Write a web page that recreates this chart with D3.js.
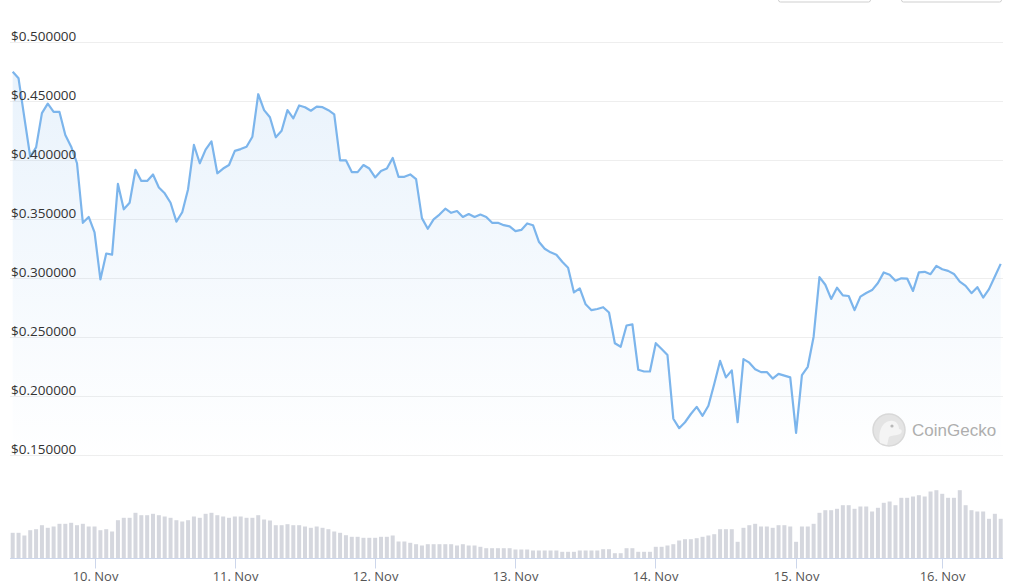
<!DOCTYPE html>
<html>
<head>
<meta charset="utf-8">
<script src="https://cdn.jsdelivr.net/npm/d3@7"></script>
<style>
  body { margin: 0; background: #fff; }
  svg { display: block; font-family: "Open Sans", "Liberation Sans", Arial, sans-serif; }
</style>
</head>
<body>
<div id="chart"></div>
<script>
// hourly price (USD), 9 Nov morning -> 16 Nov midday
const prices = [
  0.475, 0.4695, 0.436, 0.403, 0.411, 0.440, 0.448, 0.441, 0.441, 0.4215,
  0.4115, 0.3975, 0.347, 0.352, 0.339, 0.299, 0.321, 0.320, 0.380, 0.3585,
  0.364, 0.392, 0.3825, 0.3825, 0.388, 0.377, 0.372, 0.364, 0.348, 0.356,
  0.3755, 0.413, 0.3975, 0.409, 0.416, 0.389, 0.393, 0.396, 0.408, 0.4095,
  0.4115, 0.420, 0.456, 0.4425, 0.4365, 0.4195, 0.425, 0.4425, 0.4355, 0.4465,
  0.445, 0.442, 0.4455, 0.445, 0.4425, 0.439, 0.400, 0.400, 0.390, 0.390,
  0.396, 0.393, 0.3855, 0.391, 0.393, 0.402, 0.386, 0.386, 0.388, 0.384,
  0.351, 0.342, 0.350, 0.354, 0.359, 0.3555, 0.357, 0.352, 0.3545, 0.352,
  0.354, 0.352, 0.347, 0.347, 0.345, 0.344, 0.340, 0.341, 0.3465, 0.345,
  0.331, 0.325, 0.322, 0.320, 0.314, 0.309, 0.288, 0.2915, 0.278, 0.273,
  0.274, 0.2755, 0.271, 0.245, 0.242, 0.260, 0.261, 0.2225, 0.221, 0.221,
  0.245, 0.240, 0.235, 0.181, 0.173, 0.178, 0.185, 0.191, 0.1835, 0.192,
  0.2105, 0.230, 0.216, 0.222, 0.178, 0.2315, 0.2285, 0.223, 0.2205, 0.2205,
  0.215, 0.219, 0.2175, 0.216, 0.169, 0.218, 0.225, 0.2505, 0.301, 0.2945,
  0.2825, 0.292, 0.2855, 0.285, 0.273, 0.2845, 0.2875, 0.290, 0.296, 0.305,
  0.303, 0.298, 0.300, 0.2998, 0.2893, 0.305, 0.3055, 0.3035, 0.3105, 0.3077,
  0.3063, 0.3037, 0.2972, 0.2936, 0.2874, 0.2925, 0.2837, 0.2908, 0.3015, 0.3122
];

// hourly volume (millions USD)
const volumes = [
  25.7, 25.7, 23, 28.3, 29.3, 33.3, 30.7, 32, 34.7, 34.7,
  35.7, 33.3, 34.7, 32, 32, 28.3, 29.3, 27, 38.3, 40.7,
  40.7, 45.7, 43.3, 43.3, 44.7, 43.3, 42, 40.7, 38.3, 37,
  38.3, 42, 40.7, 44.7, 45.7, 43.3, 42, 40.7, 42, 42,
  40.7, 40.7, 43.3, 39, 38, 33.3, 33.3, 34.3, 33.3, 33.3,
  32, 30.7, 32, 30.7, 29.3, 27, 25.7, 23.3, 21.7, 21.7,
  20.7, 20.7, 20.7, 21.7, 21.7, 23, 17, 17, 15.7, 14.3,
  13, 14.3, 14.3, 14.3, 14.3, 14.3, 13, 14.3, 13, 13,
  11.7, 10.3, 10.3, 10.3, 10.3, 10.3, 9, 9, 9, 8,
  8, 8, 8, 8, 6.7, 6.7, 6.7, 8, 8, 8,
  8, 9.3, 9.3, 5.3, 5.3, 10.3, 10.3, 6.7, 6.7, 6.7,
  11.7, 11.7, 13, 14.3, 18, 19.3, 19.3, 20.3, 21.7, 23,
  24.3, 29.3, 29.3, 29.3, 16.7, 30.7, 33.3, 34.7, 32, 32,
  30.7, 33.3, 33.3, 32, 16.7, 32, 32, 34.7, 45.7, 48.3,
  48.3, 49.7, 53.3, 53.3, 49.7, 52, 52, 47, 50.7, 55.7,
  57, 53.3, 60.7, 60.7, 62, 63.3, 62, 67, 68.3, 64.7,
  60.7, 60.7, 68.3, 53.3, 48.3, 47, 47, 39.7, 44.7, 39.7
];

// day ticks, placed at the point index where each day starts
const dayLabels = ['10. Nov', '11. Nov', '12. Nov', '13. Nov', '14. Nov', '15. Nov', '16. Nov'];
const dayIndex = [14.1, 38.0, 62.0, 85.9, 109.9, 133.9, 158.9];

const priceTicks = [0.15, 0.2, 0.25, 0.3, 0.35, 0.4, 0.45, 0.5];

const width = 1020;
const height = 588;
const plotLeft = 10;
const plotRight = 1003;
const priceBottom = 462;
const volBase = 558.5;

const svg = d3.select('#chart').append('svg')
  .attr('width', width)
  .attr('height', height);

const x = d3.scaleLinear()
  .domain([0, prices.length - 1])
  .range([12.7, 1000.7]);

const y = d3.scaleLinear()
  .domain([0.15, 0.5])
  .range([455.3, 42.3]);

const yVol = d3.scaleLinear()
  .domain([0, 90])
  .range([volBase, volBase - 90]);

// range selector buttons, cut off at the top edge
svg.selectAll('rect.btn')
  .data([[778.5, 870.5], [901.5, 1001.5]])
  .enter().append('rect')
  .attr('class', 'btn')
  .attr('x', (d) => d[0])
  .attr('y', -30)
  .attr('width', (d) => d[1] - d[0])
  .attr('height', 32)
  .attr('rx', 2)
  .attr('fill', '#fff')
  .attr('stroke', '#cfcfcf');

// grid
svg.append('g')
  .selectAll('line')
  .data(priceTicks)
  .enter().append('line')
  .attr('x1', plotLeft)
  .attr('x2', plotRight)
  .attr('y1', (d) => Math.round(y(d)) + 0.5)
  .attr('y2', (d) => Math.round(y(d)) + 0.5)
  .attr('stroke', '#eeeeee');

// area gradient
const defs = svg.append('defs');
const grad = defs.append('linearGradient')
  .attr('id', 'fade')
  .attr('gradientUnits', 'userSpaceOnUse')
  .attr('x1', 0).attr('x2', 0)
  .attr('y1', y(0.5)).attr('y2', priceBottom);
grad.append('stop').attr('offset', 0).attr('stop-color', 'rgb(124,181,236)').attr('stop-opacity', 0.18);
grad.append('stop').attr('offset', 1).attr('stop-color', 'rgb(124,181,236)').attr('stop-opacity', 0);

const area = d3.area()
  .x((d, i) => x(i))
  .y0(priceBottom)
  .y1((d) => y(d));

const line = d3.line()
  .x((d, i) => x(i))
  .y((d) => y(d));

svg.append('path')
  .datum(prices)
  .attr('d', area)
  .attr('fill', 'url(#fade)');

// watermark
const logo = svg.append('g').attr('transform', 'translate(889,430)');
logo.append('circle').attr('r', 16).attr('fill', '#e4e4e4').attr('stroke', '#d8d8d8').attr('stroke-width', 1.5);
logo.append('path')
  .attr('d', 'M-9,13 C-11,4 -8,-8 1,-9 C7,-10 10,-5 10,-1 C13,-1 14,2 11,4 C7,6 2,5 0,7 C-1,10 -1,12 -2,15 Z')
  .attr('fill', '#f4f4f4');
logo.append('circle').attr('cx', 3).attr('cy', -4).attr('r', 1.6).attr('fill', '#b8b8b8');
svg.append('text')
  .attr('x', 912)
  .attr('y', 436)
  .attr('font-family', '"Liberation Sans", Arial, sans-serif')
  .attr('font-size', 17)
  .attr('fill', '#aeaeae')
  .text('CoinGecko');

svg.append('path')
  .datum(prices)
  .attr('d', line)
  .attr('fill', 'none')
  .attr('stroke', '#7cb5ec')
  .attr('stroke-width', 2.2)
  .attr('stroke-linejoin', 'round');

// volume bars
svg.append('g')
  .selectAll('rect')
  .data(volumes)
  .enter().append('rect')
  .attr('x', (d, i) => x(i) - 2)
  .attr('width', 4)
  .attr('y', (d) => yVol(d))
  .attr('height', (d) => volBase - yVol(d))
  .attr('fill', '#d5d7de');

// x axis
svg.append('line')
  .attr('x1', plotLeft).attr('x2', plotRight)
  .attr('y1', volBase).attr('y2', volBase)
  .attr('stroke', '#ccd6eb');

const xTicks = svg.append('g')
  .selectAll('g')
  .data(dayIndex)
  .enter().append('g')
  .attr('transform', (d) => `translate(${Math.round(x(d)) + 0.5},0)`);
xTicks.append('line')
  .attr('y1', volBase).attr('y2', volBase + 10)
  .attr('stroke', '#ccd6eb');
xTicks.append('text')
  .attr('y', 581)
  .attr('text-anchor', 'middle')
  .attr('font-size', 13)
  .attr('fill', '#555')
  .text((d, i) => dayLabels[i]);

// y labels
svg.append('g')
  .selectAll('text')
  .data(priceTicks)
  .enter().append('text')
  .attr('x', 11)
  .attr('y', (d) => y(d) - 1.8)
  .attr('font-size', 13.5)
  .attr('fill', '#333')
  .text((d) => '$' + d3.format('.6f')(d));
</script>
</body>
</html>
